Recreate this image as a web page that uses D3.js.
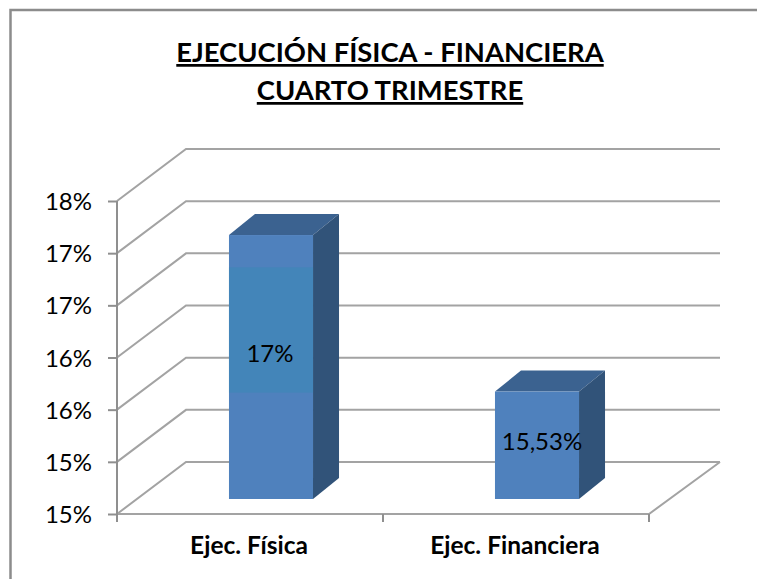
<!DOCTYPE html>
<html><head><meta charset="utf-8">
<script src="https://cdn.jsdelivr.net/npm/d3@7/dist/d3.min.js"></script>
<style>html,body{margin:0;padding:0;background:#fff}svg{display:block}text{font-family:Lato,"Open Sans",sans-serif;fill:#000}</style>
</head><body><div id="c"></div>
<script>
const titleLines = ["EJECUCIÓN FÍSICA - FINANCIERA", "CUARTO TRIMESTRE"];
const categories = ["Ejec. Física", "Ejec. Financiera"];
const values = [17.03, 15.53];
const valueLabels = ["17%", "15,53%"];
const tickValues = [14.5, 15, 15.5, 16, 16.5, 17, 17.5];
const tickLabels = ["15%", "15%", "16%", "16%", "17%", "17%", "18%"];
const highlightBand = [15.52, 16.72];

const W = 757, H = 579;
const x0 = 117, x1 = 649, yBase = 514, yTop = 201;
const wall = {dx: 69, dy: -52}, barFront = {dx: 21, dy: -15}, barBack = {dx: 47, dy: -36};
const xRight = x1 + 71;
const grid = "#a3a3a3";

const svg = d3.select("#c").append("svg").attr("width", W).attr("height", H);
const y = d3.scaleLinear().domain([14.5, 17.5]).range([yBase, yTop]);
const x = d3.scaleBand().domain(categories).range([x0, x1]).paddingInner(0.684).paddingOuter(0.342);
const xAxisBand = d3.scaleBand().domain(categories).range([x0, x1]);

// outer frame
svg.append("path").attr("d", `M10.5,${H}V10H${W}`).attr("fill", "none").attr("stroke", "#8c8c8c").attr("stroke-width", 2.5);

// title
svg.selectAll("text.title").data(titleLines).join("text").attr("class", "title")
  .attr("x", 390).attr("y", (d, i) => 62 + i * 38).attr("text-anchor", "middle")
  .attr("font-size", 27.4).attr("font-weight", 700).attr("text-decoration", "underline").text(d => d);

// walls & gridlines
const g = svg.append("g").attr("fill", "none").attr("stroke", grid).attr("stroke-width", 2);
tickValues.forEach(t => {
  const yy = y(t);
  g.append("path").attr("d", `M${x0},${yy}L${x0 + wall.dx},${yy + wall.dy}H${xRight}`);
});
// floor
g.append("path").attr("d", `M${x0},${yBase}H${x1}L${xRight},${yBase + wall.dy}`);

// axes
const yAxis = d3.axisLeft(y).tickValues(tickValues).tickFormat((d, i) => tickLabels[i]).tickSize(9).tickPadding(16);
const ya = svg.append("g").attr("transform", `translate(${x0},0)`).call(yAxis);
ya.selectAll("path,line").attr("stroke", "#8f8f8f").attr("stroke-width", 2);
ya.select(".domain").attr("d", `M0,${yTop}V${yBase + 7}`);
ya.selectAll("text").attr("font-size", 24).attr("dy", "0.36em");

const xa = svg.append("g").attr("transform", `translate(0,${yBase})`)
  .call(d3.axisBottom(xAxisBand).tickSize(0).tickPadding(23));
xa.select(".domain").remove();
xa.selectAll("text").attr("font-size", 24.5).attr("font-weight", 700).attr("dy", "0.71em").attr("x", -1);
const xt = [x0, x0 + xAxisBand.step(), x1];
svg.selectAll("line.xt").data(xt).join("line").attr("class", "xt")
  .attr("x1", d => d).attr("x2", d => d).attr("y1", yBase).attr("y2", yBase + 8)
  .attr("stroke", "#8f8f8f").attr("stroke-width", 2);

// bars
const bw = x.bandwidth();
const fy = v => y(v) + barFront.dy;
const sideDx = barBack.dx - barFront.dx, sideDy = barBack.dy - barFront.dy;
const bars = svg.selectAll("g.bar").data(categories.map((c, i) => ({c, v: values[i], l: valueLabels[i], i})))
  .join("g").attr("class", "bar");
bars.each(function (d) {
  const s = d3.select(this);
  const L = x(d.c) + barFront.dx, R = L + bw;
  const T = fy(d.v), B = fy(14.5);
  s.append("path").attr("fill", "#3b6290").attr("d", `M${L},${T}L${L + sideDx},${T + sideDy}H${R + sideDx}L${R},${T}Z`);
  s.append("path").attr("fill", "#315379").attr("d", `M${R},${T}L${R + sideDx},${T + sideDy}V${B + sideDy}L${R},${B}Z`);
  s.append("rect").attr("x", L).attr("y", T).attr("width", bw).attr("height", B - T).attr("fill", "#4f81bd");
  if (d.i === 0) {
    s.append("rect").attr("x", L).attr("y", fy(highlightBand[1])).attr("width", bw)
      .attr("height", fy(highlightBand[0]) - fy(highlightBand[1])).attr("fill", "#4385b9");
  }
  s.append("text").attr("x", (L + R) / 2 + (d.i === 0 ? -1 : 5)).attr("y", (T + B) / 2 + (d.i === 0 ? -5 : 5))
    .attr("text-anchor", "middle").attr("font-size", 24).text(d.l);
});
</script></body></html>
